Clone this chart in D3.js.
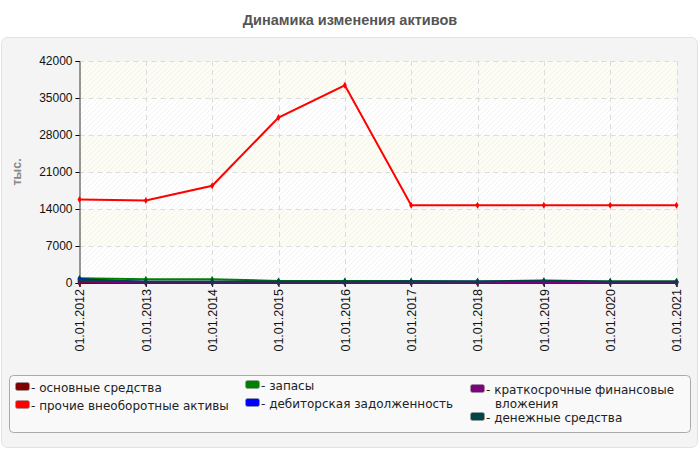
<!DOCTYPE html>
<html>
<head>
<meta charset="utf-8">
<script src="https://cdnjs.cloudflare.com/ajax/libs/d3/7.8.5/d3.min.js"></script>
<style>
  body { margin: 0; background: #fff; font-family: "Liberation Sans", Arial, sans-serif; }
</style>
</head>
<body>
<div id="chart"></div>
<script>
// data
var dates = ["01.01.2012", "01.01.2013", "01.01.2014", "01.01.2015", "01.01.2016",
             "01.01.2017", "01.01.2018", "01.01.2019", "01.01.2020", "01.01.2021"];
var yTicks = [0, 7000, 14000, 21000, 28000, 35000, 42000];

var osnovnye   = [0, 0, 0, 0, 0, 0, 0, 0, 0, 0];
var prochie    = [15800, 15600, 18400, 31300, 37400, 14700, 14700, 14700, 14700, 14700];
var zapasy     = [900, 700, 700, 400, 400, 400, 300, 300, 300, 300];
var debitorka  = [700, 200, 200, 200, 200, 250, 250, 200, 200, 200];
var kratkosr   = [300, 100, 100, 100, 100, 60, 60, 100, 60, 60];
var dengi      = [500, 300, 300, 300, 300, 300, 300, 450, 300, 300];

var seriesNames = ["основные средства", "прочие внеоборотные активы", "запасы",
                   "дебиторская задолженность", "краткосрочные финансовые вложения", "денежные средства"];
var seriesColors = ["#800000", "#ff0000", "#008000", "#0000ff", "#800080", "#004545"];
var seriesValues = [osnovnye, prochie, zapasy, debitorka, kratkosr, dengi];

var W = 700, H = 450;
var plot = { left: 79.5, right: 676.5, top: 61, bottom: 283 };

var svg = d3.select("#chart").append("svg")
    .attr("width", W).attr("height", H);

// light diagonal hatch for the plot area
var defs = svg.append("defs");
var pat = defs.append("pattern")
    .attr("id", "hatch")
    .attr("patternUnits", "userSpaceOnUse")
    .attr("width", 5).attr("height", 5);
pat.append("path")
    .attr("d", "M-1,1 l2,-2 M0,5 l5,-5 M4,6 l2,-2")
    .attr("stroke", "#eeeeee").attr("stroke-width", 0.8)
    .attr("fill", "none");

// title
svg.append("text")
    .attr("x", W / 2).attr("y", 25)
    .attr("text-anchor", "middle")
    .style("font-size", "14.5px").style("font-weight", "bold")
    .style("fill", "#555")
    .text("Динамика изменения активов");

// outer panel
svg.append("rect")
    .attr("x", 1.5).attr("y", 37.5)
    .attr("width", 696).attr("height", 410)
    .attr("rx", 6)
    .attr("fill", "#f4f4f4").attr("stroke", "#e2e2e2");

var x = d3.scalePoint().domain(dates).range([plot.left, plot.right]);
var y = d3.scaleLinear().domain([0, 42000]).range([plot.bottom, plot.top]);

// alternate bands
for (var i = 0; i < yTicks.length - 1; i++) {
    var bandTop = y(yTicks[i + 1]), bandBot = y(yTicks[i]);
    svg.append("rect")
        .attr("x", plot.left).attr("y", bandTop)
        .attr("width", plot.right - plot.left).attr("height", bandBot - bandTop)
        .attr("fill", (yTicks.length - 2 - i) % 2 === 0 ? "#fdfdf3" : "#ffffff");
}
svg.append("rect")
    .attr("x", plot.left).attr("y", plot.top)
    .attr("width", plot.right - plot.left).attr("height", plot.bottom - plot.top)
    .attr("fill", "url(#hatch)");

// grid
svg.append("g").selectAll("line.hg")
    .data(yTicks.slice(1))
    .enter().append("line")
    .attr("x1", plot.left).attr("x2", plot.right)
    .attr("y1", function (d) { return Math.round(y(d)) + 0.5; })
    .attr("y2", function (d) { return Math.round(y(d)) + 0.5; })
    .attr("stroke", "#dcdcdc").attr("stroke-dasharray", "5,4");
svg.append("g").selectAll("line.vg")
    .data(dates.slice(1))
    .enter().append("line")
    .attr("x1", function (d) { return Math.round(x(d)) + 0.5; })
    .attr("x2", function (d) { return Math.round(x(d)) + 0.5; })
    .attr("y1", plot.top).attr("y2", plot.bottom)
    .attr("stroke", "#dcdcdc").attr("stroke-dasharray", "5,4");

// axes
var yAxis = svg.append("g")
    .attr("transform", "translate(" + plot.left + ",0)")
    .call(d3.axisLeft(y).tickValues(yTicks).tickSize(4).tickPadding(3).tickFormat(d3.format("d")));
yAxis.select(".domain").attr("stroke", "#333");
yAxis.selectAll("text").style("font-size", "12px").style("fill", "#111")
    .style("font-family", "'Liberation Sans', Arial, sans-serif");

var xAxis = svg.append("g")
    .attr("transform", "translate(0," + plot.bottom + ")")
    .call(d3.axisBottom(x).tickSize(4).tickPadding(3));
xAxis.select(".domain").attr("stroke", "#333");
xAxis.selectAll("text")
    .style("font-size", "12.5px").style("fill", "#111")
    .style("font-family", "'Liberation Sans', Arial, sans-serif")
    .attr("transform", "rotate(-90)")
    .attr("text-anchor", "end")
    .attr("dx", "-6px").attr("dy", "0.35em")
    .attr("x", 0).attr("y", 0);

// y label
svg.append("text")
    .attr("transform", "translate(21,172) rotate(-90)")
    .attr("text-anchor", "middle")
    .style("font-size", "12.5px").style("font-weight", "bold").style("fill", "#888")
    .text("тыс.");

// lines
var line = d3.line()
    .x(function (d, i) { return x(dates[i]); })
    .y(function (d) { return y(d); });

seriesValues.forEach(function (vals, si) {
    svg.append("path")
        .datum(vals)
        .attr("d", line)
        .attr("fill", "none")
        .attr("stroke", seriesColors[si])
        .attr("stroke-width", 2);
    svg.append("g").selectAll("path")
        .data(vals)
        .enter().append("path")
        .attr("d", d3.symbol().type(d3.symbolDiamond).size(14))
        .attr("transform", function (d, i) { return "translate(" + x(dates[i]) + "," + y(d) + ")"; })
        .attr("fill", seriesColors[si]);
});

// legend
var lg = svg.append("g");
lg.append("rect")
    .attr("x", 9.5).attr("y", 375.5)
    .attr("width", 681).attr("height", 57)
    .attr("rx", 4)
    .attr("fill", "#f9f9f9").attr("stroke", "#aaa");

var legendPos = [[20, 387], [250, 385], [20, 405], [250, 403], [475, 389], [475, 417]];
var legendOrder = [0, 2, 1, 3, 4, 5];
legendOrder.forEach(function (i, k) {
    var p = legendPos[k];
    var g = lg.append("g").attr("transform", "translate(" + p[0] + "," + p[1] + ")");
    g.append("rect")
        .attr("x", -4.5).attr("y", -4.5)
        .attr("width", 14).attr("height", 8)
        .attr("rx", 2)
        .attr("fill", seriesColors[i]).attr("stroke", "#999").attr("stroke-width", 0.7);
    var t = g.append("text")
        .attr("x", 11).attr("y", 4.5)
        .style("font-family", "'DejaVu Sans', sans-serif")
        .style("font-size", "12px").style("fill", "#222");
    if (i === 4) {
        t.append("tspan").text("- краткосрочные финансовые");
        t.append("tspan").attr("x", 20).attr("dy", 14).text("вложения");
    } else {
        t.text("- " + seriesNames[i]);
    }
});
</script>
</body>
</html>
